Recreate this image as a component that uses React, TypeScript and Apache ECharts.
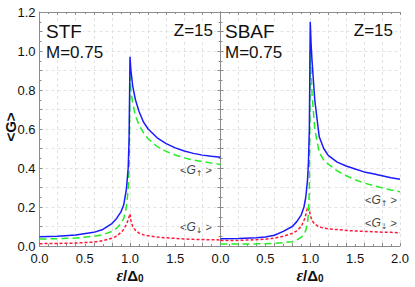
import React, { useEffect, useRef } from "react";
import * as echarts from "echarts";

// STF panel (left)
const xLeft = [0, 0.2, 0.4, 0.6, 0.7, 0.8, 0.85, 0.9, 0.93, 0.96, 0.98, 0.99, 1.0, 1.01, 1.03, 1.06, 1.1, 1.15, 1.2, 1.3, 1.4, 1.5, 1.6, 1.7, 1.8, 1.9, 2.0];
const gTotLeft = [0.048, 0.05, 0.056, 0.07, 0.085, 0.115, 0.14, 0.175, 0.21, 0.29, 0.4, 0.55, 0.97, 0.9, 0.82, 0.75, 0.69, 0.635, 0.6, 0.555, 0.525, 0.503, 0.487, 0.475, 0.466, 0.46, 0.455];
const gUpLeft = [0.036, 0.037, 0.041, 0.05, 0.058, 0.075, 0.09, 0.115, 0.14, 0.2, 0.29, 0.4, 0.87, 0.8, 0.73, 0.67, 0.62, 0.58, 0.55, 0.51, 0.485, 0.467, 0.452, 0.441, 0.433, 0.425, 0.418];
const gDownLeft = [0.012, 0.013, 0.015, 0.02, 0.027, 0.04, 0.05, 0.07, 0.085, 0.11, 0.135, 0.15, 0.165, 0.13, 0.1, 0.08, 0.066, 0.057, 0.052, 0.046, 0.042, 0.039, 0.036, 0.034, 0.033, 0.032, 0.031];

// SBAF panel (right)
const xRight = [0, 0.2, 0.4, 0.5, 0.6, 0.7, 0.8, 0.85, 0.9, 0.93, 0.95, 0.97, 0.98, 0.99, 1.0, 1.01, 1.02, 1.05, 1.1, 1.15, 1.2, 1.3, 1.4, 1.5, 1.6, 1.7, 1.8, 1.9, 2.0];
const gTotRight = [0.037, 0.038, 0.042, 0.046, 0.055, 0.075, 0.1, 0.125, 0.16, 0.2, 0.25, 0.34, 0.43, 0.6, 1.15, 1.03, 0.95, 0.75, 0.56, 0.5, 0.465, 0.43, 0.41, 0.395, 0.38, 0.37, 0.36, 0.35, 0.342];
const gUpRight = [0.01, 0.01, 0.011, 0.012, 0.014, 0.017, 0.022, 0.03, 0.045, 0.06, 0.08, 0.12, 0.17, 0.3, 1.0, 0.88, 0.78, 0.6, 0.48, 0.44, 0.42, 0.385, 0.36, 0.34, 0.323, 0.31, 0.298, 0.287, 0.278];
const gDownRight = [0.028, 0.029, 0.032, 0.035, 0.04, 0.05, 0.065, 0.078, 0.1, 0.13, 0.16, 0.2, 0.2, 0.18, 0.16, 0.145, 0.13, 0.112, 0.098, 0.092, 0.088, 0.084, 0.08, 0.077, 0.075, 0.073, 0.071, 0.07, 0.068];

const FONT = "Liberation Sans, Arial, sans-serif";
const AX = "#8c8c8c";

function pairs(xs: number[], ys: number[]) {
  return xs.map((x, i) => [x, ys[i]]);
}

export default function App() {
  const ref = useRef<HTMLDivElement>(null);
  useEffect(() => {
    if (!ref.current) return;
    const chart = echarts.init(ref.current, null, { renderer: "svg" });
    const grids = [
      { left: 39.5, top: 12, width: 181, height: 234 },
      { left: 220.5, top: 12, width: 179.5, height: 234 },
    ];
    const gridX = (gi: number, pos: "bottom" | "top") => ({
      type: "value", gridIndex: gi, position: pos, min: 0, max: 2, interval: 0.2,
      axisLabel: { show: false },
      axisLine: { show: true, lineStyle: { color: AX, width: 1 } },
      axisTick: { show: true, inside: true, length: 3, lineStyle: { color: AX } },
      minorTick: { show: true, splitNumber: 2, length: 2, lineStyle: { color: AX } },
      splitLine: { show: pos === "bottom", lineStyle: { color: "#e2e2e2", type: [3, 3], width: 1 } },
    });
    const labelX = (gi: number, hideLast: boolean) => ({
      type: "value", gridIndex: gi, position: "bottom", min: 0, max: 2, interval: 0.5,
      axisLine: { show: false }, axisTick: { show: false }, splitLine: { show: false },
      axisLabel: {
        show: true, margin: 6, color: "#111", fontSize: 13, fontFamily: FONT,
        formatter: (v: number) => (hideLast && Math.abs(v - 2) < 1e-6 ? "" : v.toFixed(1)),
        showMaxLabel: true, showMinLabel: true,
      },
    });
    const yAx = (gi: number, pos: "left" | "right", labels: boolean) => ({
      type: "value", gridIndex: gi, position: pos, min: 0, max: 1.2, interval: 0.1,
      axisLine: { show: true, lineStyle: { color: AX, width: 1 } },
      axisTick: { show: true, inside: true, length: 3, lineStyle: { color: AX } },
      minorTick: { show: true, splitNumber: 2, length: 2, lineStyle: { color: AX } },
      splitLine: { show: pos === "left", lineStyle: { color: "#e2e2e2", type: [3, 3], width: 1 } },
      axisLabel: {
        show: labels, margin: 4, color: "#111", fontSize: 13, fontFamily: FONT,
        formatter: (v: number) => (Math.round(v * 10) % 2 === 0 ? v.toFixed(1) : ""),
      },
    });
    const lineS = (xa: number, ya: number, data: number[][], color: string, dash: any, z: number) => ({
      type: "line", xAxisIndex: xa, yAxisIndex: ya, data, showSymbol: false, symbol: "none",
      lineStyle: { color, width: 1.5, type: dash }, z,
    });
    const gLabel = (x: number, y: number, arrow: string) => ({
      type: "text", x, y,
      style: {
        text: "{a|<}{g|G}{s|" + arrow + "}{a| >}",
        fill: "#444",
        verticalAlign: "middle",
        rich: {
          a: { fontSize: 11, fontFamily: FONT, fill: "#444" },
          g: { fontSize: 12, fontFamily: FONT, fontStyle: "italic", fill: "#444" },
          s: { fontSize: 8, fontFamily: "DejaVu Sans, sans-serif", fill: "#444", padding: [6, 0, 0, 0] },
        },
      },
    });
    const xTitle = (cx: number) => ({
      type: "text", x: cx, y: 275,
      style: {
        text: "{e|ε}{n|/}{d|Δ}{s|0}",
        align: "center", verticalAlign: "middle",
        rich: {
          e: { fontSize: 16, fontFamily: "Liberation Serif, serif", fontStyle: "italic", fontWeight: "bold", fill: "#111" },
          n: { fontSize: 15, fontFamily: FONT, fontWeight: "bold", fill: "#111" },
          d: { fontSize: 15, fontFamily: FONT, fontWeight: "bold", fill: "#111" },
          s: { fontSize: 10, fontFamily: FONT, fontWeight: "bold", fill: "#111", padding: [7, 0, 0, 0] },
        },
      },
    });
    const txt = (x: number, y: number, text: string, size: number, align = "left") => ({
      type: "text", x, y, z: 10,
      style: {
        text, fontSize: size, fontFamily: FONT, fill: "#111", align, verticalAlign: "middle",
        backgroundColor: "#fff", padding: [0, 1, 0, 1],
      },
    });
    chart.setOption({
      animation: false,
      backgroundColor: "#fff",
      grid: grids,
      xAxis: [gridX(0, "bottom"), labelX(0, true), gridX(0, "top"), gridX(1, "bottom"), labelX(1, false), gridX(1, "top")],
      yAxis: [yAx(0, "left", true), yAx(1, "left", false), yAx(1, "right", false)],
      series: [
        lineS(0, 0, pairs(xLeft, gDownLeft), "#ff1a3c", [3, 2], 3),
        lineS(0, 0, pairs(xLeft, gUpLeft), "#22ee22", [7, 4], 4),
        lineS(0, 0, pairs(xLeft, gTotLeft), "#1a1aff", "solid", 5),
        lineS(3, 1, pairs(xRight, gDownRight), "#ff1a3c", [3, 2], 3),
        lineS(3, 1, pairs(xRight, gUpRight), "#22ee22", [7, 4], 4),
        lineS(3, 1, pairs(xRight, gTotRight), "#1a1aff", "solid", 5),
      ],
      graphic: [
        txt(45, 31, "STF", 19),
        txt(45, 52, "M=0.75", 17),
        txt(214, 30, "Z=15", 17, "right"),
        txt(224, 31, "SBAF", 19),
        txt(224, 52, "M=0.75", 17),
        txt(394, 30, "Z=15", 17, "right"),
        gLabel(180, 170, "↑"),
        gLabel(180, 227, "↓"),
        gLabel(365, 200, "↑"),
        gLabel(365, 223, "↓"),
        {
          type: "text", x: 10, y: 127, rotation: Math.PI / 2,
          style: { text: "<G>", fontSize: 15, fontWeight: "bold", fontFamily: FONT, fill: "#111", align: "center", verticalAlign: "middle" },
        },
        xTitle(130),
        xTitle(310),
      ],
    });
    return () => chart.dispose();
  }, []);
  return <div ref={ref} style={{ position: "absolute", left: 0, top: 0, width: 415, height: 287 }} />;
}
